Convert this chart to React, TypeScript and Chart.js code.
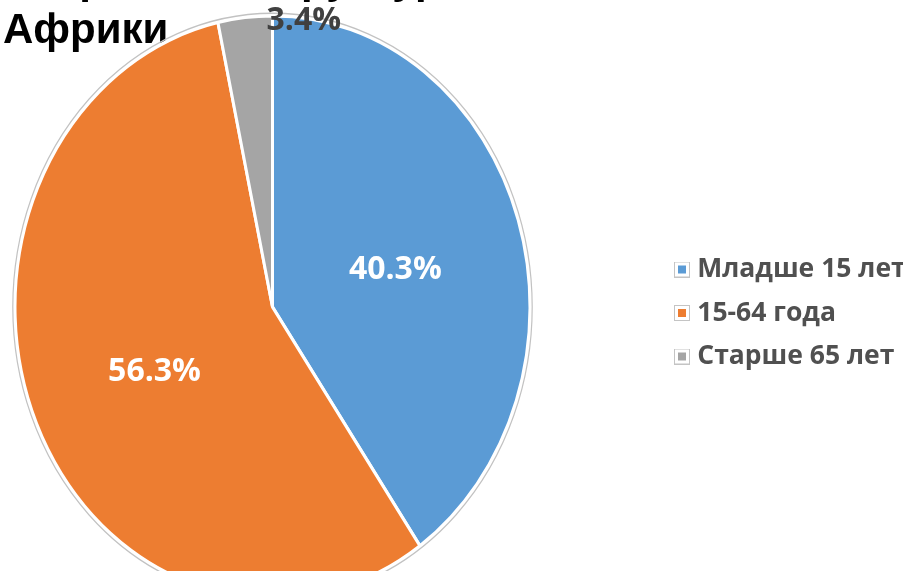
import React, { useEffect, useRef } from "react";
import { Chart, registerables } from "chart.js";

Chart.register(...registerables);

// ---- data ----
const titleLines = ["Возрастная структура", "Африки"];
const categories = ["Младше 15 лет", "15-64 года", "Старше 65 лет"];
const shares = [40.3, 56.3, 3.4];
const colors = ["#5B9BD5", "#ED7D31", "#A5A5A5"];

// ---- style constants ----
const SCALE_Y = 1.131; // vertical stretch of the pie in the reference
const LEGEND_LEFT = 663;
const LEGEND_DY = 52;

function makeSwatch(color: string) {
  const c = document.createElement("canvas");
  c.width = 16;
  c.height = 16;
  const g = c.getContext("2d")!;
  g.fillStyle = "#ffffff";
  g.fillRect(0, 0, 16, 16);
  g.strokeStyle = "#c4c4c4";
  g.lineWidth = 1;
  g.strokeRect(0.5, 0.5, 15, 15);
  g.fillStyle = color;
  g.fillRect(4, 4, 8, 8);
  return c;
}

const piePlugin = {
  id: "ellipsePie",
  afterLayout(chart: any) {
    const lg = chart.legend;
    if (lg) {
      const dx = LEGEND_LEFT - lg.left;
      lg.left += dx;
      lg.right += dx;
      lg.top += LEGEND_DY;
      lg.bottom += LEGEND_DY;
    }
  },
  beforeDatasetsDraw(chart: any) {
    const meta = chart.getDatasetMeta(0);
    const a = meta.data[0];
    const ctx = chart.ctx;
    ctx.save();
    ctx.translate(a.x, a.y);
    ctx.scale(1, SCALE_Y);
    ctx.translate(-a.x, -a.y);
  },
  afterDatasetsDraw(chart: any) {
    const ctx = chart.ctx;
    const meta = chart.getDatasetMeta(0);
    const a0 = meta.data[0];
    // thin grey outline around the pie
    ctx.beginPath();
    ctx.arc(a0.x, a0.y, a0.outerRadius + 2.2, 0, Math.PI * 2);
    ctx.strokeStyle = "#c2c2c2";
    ctx.lineWidth = 1.2;
    ctx.stroke();
    ctx.restore();

    // value labels
    ctx.save();
    ctx.font = "bold 32px 'Open Sans'";
    ctx.textBaseline = "middle";
    meta.data.forEach((arc: any, i: number) => {
      const { x, y, startAngle, endAngle, outerRadius } = arc.getProps(
        ["x", "y", "startAngle", "endAngle", "outerRadius"],
        true
      );
      const txt = `${shares[i].toFixed(1)}%`;
      if (shares[i] < 5) {
        const px = x + Math.cos(endAngle) * outerRadius;
        const py = y + Math.sin(endAngle) * outerRadius * SCALE_Y;
        ctx.textAlign = "left";
        ctx.fillStyle = "#404040";
        ctx.fillText(txt, px - 6, py + 5);
      } else {
        const mid = (startAngle + endAngle) / 2;
        const px = x + Math.cos(mid) * outerRadius * 0.5;
        const py = y + Math.sin(mid) * outerRadius * 0.5 * SCALE_Y;
        ctx.textAlign = "center";
        ctx.fillStyle = "#ffffff";
        ctx.fillText(txt, px, py + 7);
      }
    });
    ctx.restore();
  },
};

export default function App() {
  const ref = useRef<HTMLCanvasElement>(null);

  useEffect(() => {
    if (!ref.current) return;
    const swatches = colors.map(makeSwatch);
    const chart = new Chart(ref.current, {
      type: "pie",
      data: {
        labels: categories,
        datasets: [
          {
            data: shares,
            backgroundColor: colors,
            borderColor: "#ffffff",
            borderWidth: 3,
            hoverOffset: 0,
            clip: false as any,
          },
        ],
      },
      options: {
        responsive: false,
        animation: false,
        events: [],
        layout: { padding: { left: 3, top: -44, right: 141, bottom: 5 } },
        plugins: {
          tooltip: { enabled: false },
          title: {
            display: true,
            text: titleLines,
            align: "start",
            color: "#000000",
            font: {
              family: "'Liberation Sans', Arial, sans-serif",
              size: 42,
              weight: "bold",
              lineHeight: 1.2,
            },
            padding: { top: 0, bottom: -8.8 },
          },
          legend: {
            position: "right",
            maxWidth: 240,
            labels: {
              usePointStyle: true,
              pointStyleWidth: 4,
              padding: 17,
              color: "#505050",
              font: { family: "'Open Sans'", size: 26.5, weight: "bold" },
              generateLabels: () =>
                categories.map((c, i) => ({
                  text: c,
                  fillStyle: colors[i],
                  strokeStyle: colors[i],
                  lineWidth: 0,
                  pointStyle: swatches[i],
                  hidden: false,
                  index: i,
                  fontColor: "#505050",
                })),
            },
          },
        },
      },
      plugins: [piePlugin],
    });
    return () => chart.destroy();
  }, []);

  return (
    <div
      style={{
        position: "fixed",
        left: 0,
        top: 0,
        width: 923,
        height: 571,
        background: "#ffffff",
        overflow: "hidden",
      }}
    >
      <canvas ref={ref} width={923} height={571} />
    </div>
  );
}
